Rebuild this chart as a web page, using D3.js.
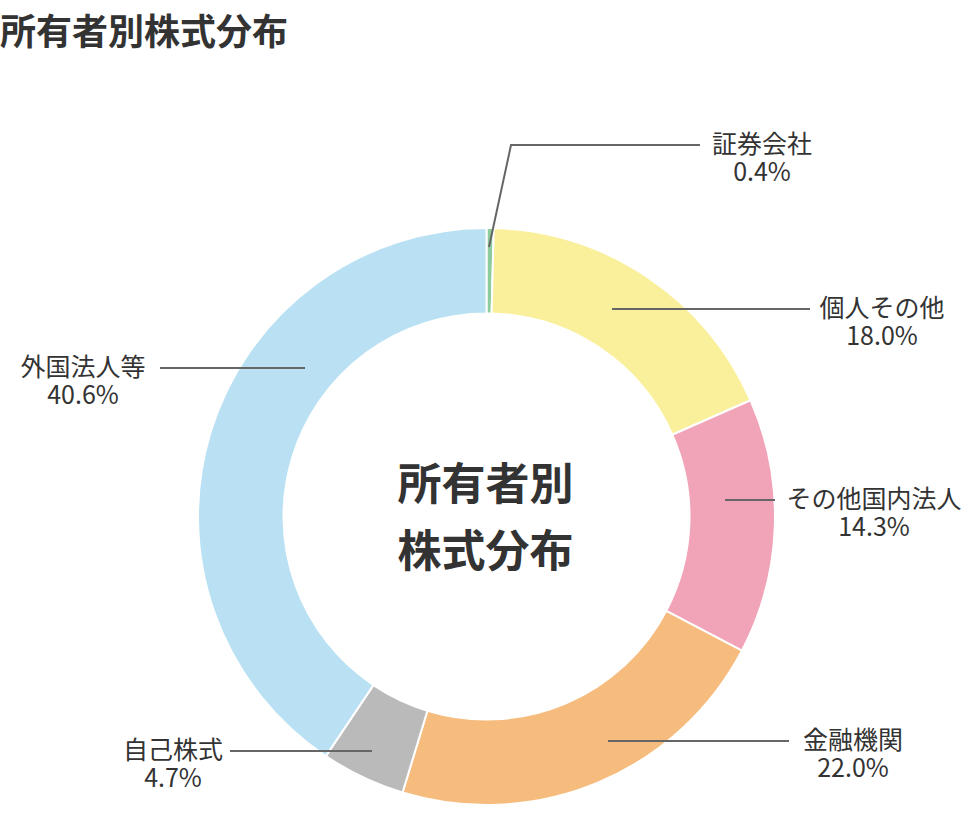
<!DOCTYPE html>
<html lang="ja">
<head>
<meta charset="utf-8">
<script src="https://cdn.jsdelivr.net/npm/d3@7"></script>
<style>
  html, body { margin: 0; padding: 0; background: #fff; }
  svg { display: block; font-family: "Noto Sans CJK JP", "Noto Sans", sans-serif; }
</style>
</head>
<body>
<svg id="chart" width="972" height="820"></svg>
<script>
// ---- data ----
const categories = ["証券会社", "個人その他", "その他国内法人", "金融機関", "自己株式", "外国法人等"];
const shares = [0.4, 18.0, 14.3, 22.0, 4.7, 40.6];
const colors = ["#8ccb9c", "#faf09b", "#f1a3b7", "#f6bc7e", "#b9bab9", "#b9e1f3"];
const chartTitle = "所有者別株式分布";
const centerLines = ["所有者別", "株式分布"];

// ---- label layout (annotation placement) ----
const labelLayout = [
  { pts: [[489, 247], [511, 145], [700, 145]], tx: 762, ty: 145 },
  { pts: [[612, 309], [810, 309]], tx: 882, ty: 309 },
  { pts: [[725, 500], [775, 500]], tx: 874, ty: 500 },
  { pts: [[608, 741], [789, 741]], tx: 853, ty: 741 },
  { pts: [[372, 751], [230, 751]], tx: 173, ty: 751 },
  { pts: [[305, 368], [160, 368]], tx: 83, ty: 368 }
];

const svg = d3.select("#chart");
const cx = 486.5, cy = 516.5, rOuter = 288.5, rInner = 203;

svg.append("text")
  .attr("x", 0).attr("y", 45)
  .attr("font-size", 36).attr("font-weight", 700)
  .attr("fill", "#333")
  .text(chartTitle);

const data = categories.map((c, i) => ({ name: c, value: shares[i], color: colors[i] }));
const pie = d3.pie().value(d => d.value).sort(null);
const arc = d3.arc().innerRadius(rInner).outerRadius(rOuter);

const g = svg.append("g").attr("transform", `translate(${cx},${cy})`);
g.selectAll("path.slice")
  .data(pie(data))
  .join("path")
  .attr("class", "slice")
  .attr("d", arc)
  .attr("fill", d => d.data.color)
  .attr("stroke", "#fff")
  .attr("stroke-width", 2);

// center text
const ct = svg.append("g");
centerLines.forEach((t, i) => {
  ct.append("text")
    .attr("x", cx - 1).attr("y", 500 + i * 67)
    .attr("text-anchor", "middle")
    .attr("font-size", 44).attr("font-weight", 700)
    .attr("fill", "#333")
    .text(t);
});

// leader lines and labels
const line = d3.line();
const lg = svg.append("g");
data.forEach((d, i) => {
  const L = labelLayout[i];
  lg.append("path")
    .attr("d", line(L.pts))
    .attr("fill", "none")
    .attr("stroke", "#666")
    .attr("stroke-width", 2);
  const t = lg.append("text")
    .attr("text-anchor", "middle")
    .attr("font-size", 25)
    .attr("fill", "#333");
  t.append("tspan").attr("x", L.tx).attr("y", L.ty + 8).text(d.name);
  t.append("tspan").attr("x", L.tx).attr("y", L.ty + 36).text(d3.format(".1f")(d.value) + "%");
});
</script>
</body>
</html>
